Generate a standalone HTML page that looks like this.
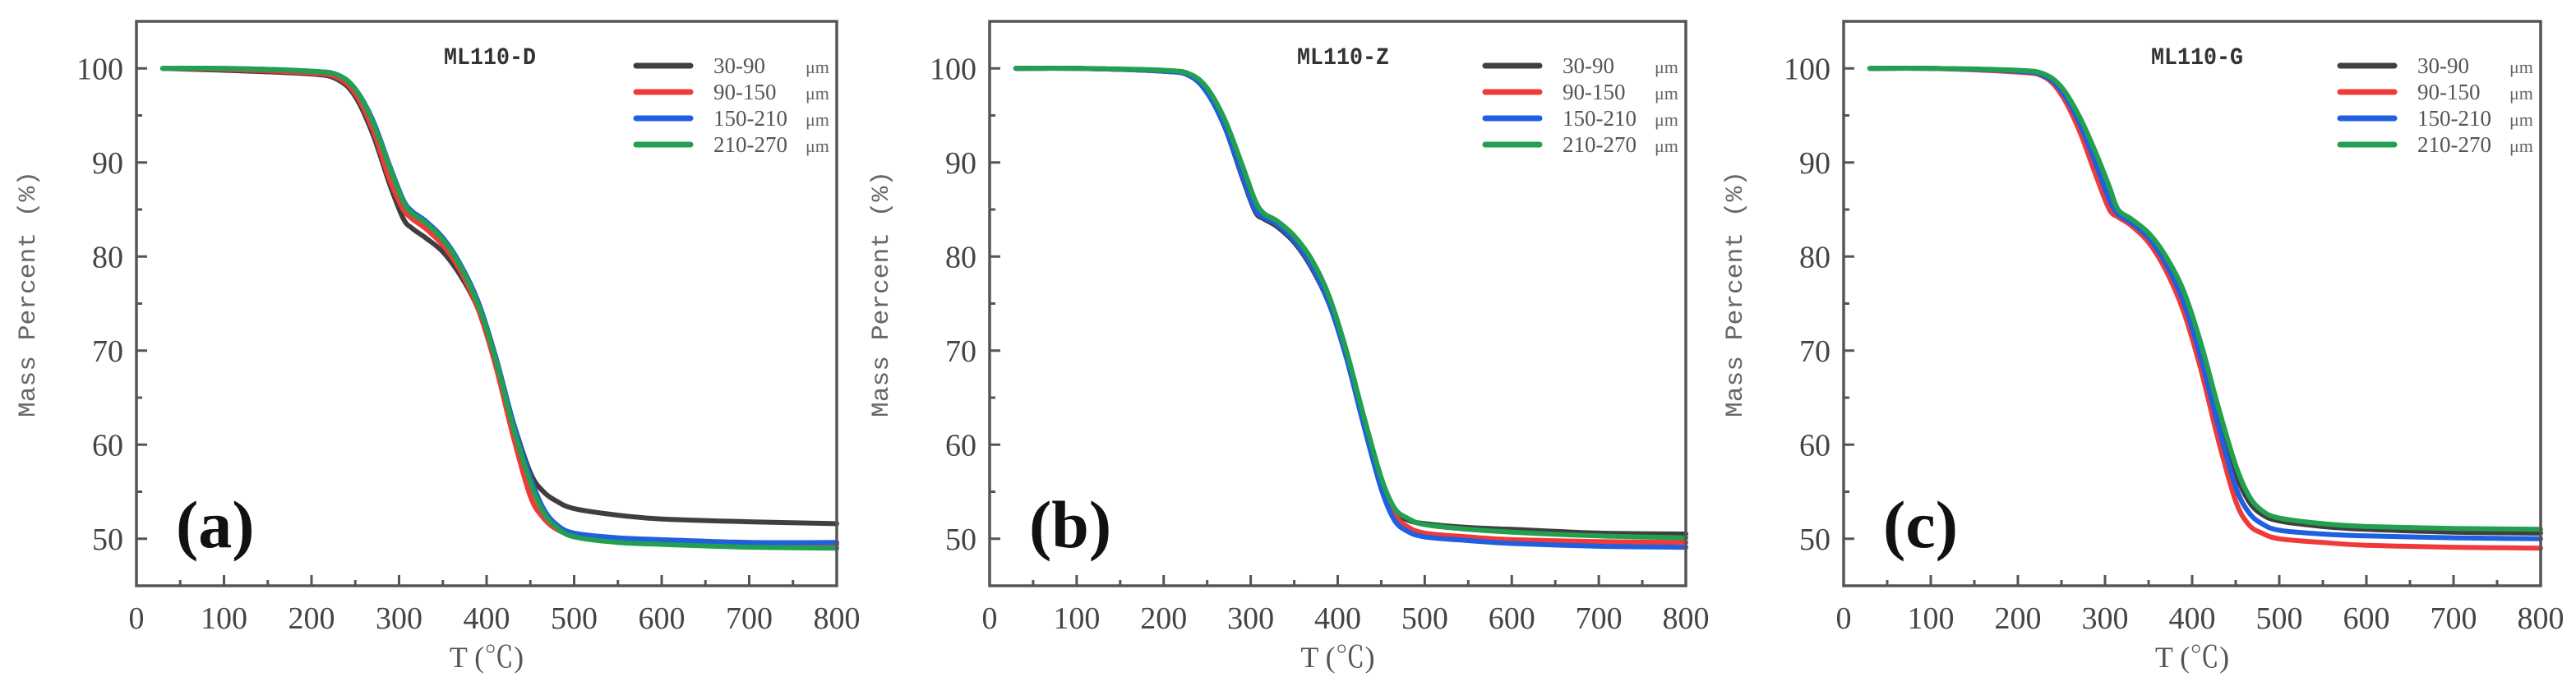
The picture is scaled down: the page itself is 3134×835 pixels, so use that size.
<!DOCTYPE html>
<html><head><meta charset="utf-8"><style>
html,body{margin:0;padding:0;background:#fff;}
svg{display:block;}
</style></head><body>
<svg id="fig" width="3134" height="835" viewBox="0 0 3134 835" xmlns="http://www.w3.org/2000/svg"></svg>
<script>
const temps = [30,100,200,230,250,270,290,305,315,330,350,370,390,410,430,450,465,480,500,550,600,700,800];
const seriesLabels = ["30-90","90-150","150-210","210-270"];
const panelTitles = ["ML110-D","ML110-Z","ML110-G"];
const panelLetters = ["(a)","(b)","(c)"];
const xTicks = [0,100,200,300,400,500,600,700,800];
const yTicks = [50,60,70,80,90,100];
const a_black = [100,99.8,99.4,98.8,97,93,87.5,84,83,82,80.5,78,74.5,69,62.5,57,55,54,53.2,52.5,52.1,51.8,51.6];
const a_red   = [100,99.9,99.5,99,97.3,93.5,88,85,84,83,81.2,78.5,74.5,68.5,61,54.5,52.2,51,50.4,50,49.8,49.5,49.4];
const a_blue  = [100,100,99.7,99.3,97.8,94.5,89.5,86,84.8,83.8,82,79.2,75.3,69.5,62.5,56.5,53.2,51.5,50.6,50.1,49.9,49.6,49.6];
const a_green = [100,100,99.7,99.3,97.8,94.3,89.3,85.8,84.6,83.6,81.8,79,75,69.2,62,56,52.8,51.2,50.2,49.6,49.4,49.1,49.0];
const b_black = [100,100,99.7,99.2,97.4,93.8,88.5,84.8,84,83.2,81.5,78.8,75,69.5,62.5,56,53,52,51.6,51.2,51,50.6,50.5];
const b_red   = [100,100,99.7,99.3,97.6,94,89,85.3,84.3,83.5,81.8,79.2,75.3,69.5,62.5,55.8,52.6,51.3,50.6,50.2,49.9,49.7,49.6];
const b_blue  = [100,100,99.7,99.2,97.4,93.8,88.7,85,84.2,83.4,81.7,79,75,69.2,62,55.3,52,50.8,50.2,49.8,49.5,49.2,49.1];
const b_green = [100,100,99.8,99.4,97.9,94.6,89.8,86,84.6,83.8,82.2,79.7,75.8,70,63,56.5,53.3,52.2,51.5,51,50.7,50.3,50.1];
const c_black = [100,100,99.7,99.3,97.8,94.8,90.6,87,84.8,83.8,82.3,79.7,76,70.3,63.3,57,54,52.6,51.9,51.3,51,50.7,50.6];
const c_red   = [100,100,99.6,99.1,97.2,93.5,88.5,85,84.2,83.3,81.5,78.5,74.2,68,60.5,54,51.5,50.6,50,49.6,49.3,49.1,49.0];
const c_blue  = [100,100,99.7,99.2,97.6,94.3,89.7,86,84.5,83.6,82,79.2,75.2,69.2,62,55.5,52.8,51.6,50.9,50.5,50.3,50.1,50.0];
const c_green = [100,100,99.8,99.4,98,95,90.9,87.4,85,84,82.5,80,76.4,70.8,64,57.8,54.6,53,52.2,51.6,51.3,51.1,51.0];

const panelSeries = [[a_black,a_red,a_blue,a_green],[b_black,b_red,b_blue,b_green],[c_black,c_red,c_blue,c_green]];
const colors = ["#3f3f3f","#f03a3a","#1f5fe0","#22a050"];
const boxes = [{l:166,r:1018},{l:1204,r:2051},{l:2243,r:3091}];
const TOP=26, BOT=713, YMIN=45, YMAX=105, XMIN=0, XMAX=800;
const NS="http://www.w3.org/2000/svg";
const svg=document.getElementById('fig');
function mk(tag,attrs,parent){const e=document.createElementNS(NS,tag);for(const k in attrs)e.setAttribute(k,attrs[k]);(parent||svg).appendChild(e);return e;}
function smooth(pts){let d="M"+pts[0][0].toFixed(1)+","+pts[0][1].toFixed(1);
 for(let i=0;i<pts.length-1;i++){const p0=pts[Math.max(0,i-1)],p1=pts[i],p2=pts[i+1],p3=pts[Math.min(pts.length-1,i+2)];
  const c1x=p1[0]+(p2[0]-p0[0])/6,c1y=p1[1]+(p2[1]-p0[1])/6,c2x=p2[0]-(p3[0]-p1[0])/6,c2y=p2[1]-(p3[1]-p1[1])/6;
  d+=" C"+c1x.toFixed(1)+","+c1y.toFixed(1)+" "+c2x.toFixed(1)+","+c2y.toFixed(1)+" "+p2[0].toFixed(1)+","+p2[1].toFixed(1);}
 return d;}
boxes.forEach((b,pi)=>{
 const sx=v=>b.l+(v-XMIN)/(XMAX-XMIN)*(b.r-b.l);
 const sy=v=>BOT-(v-YMIN)/(YMAX-YMIN)*(BOT-TOP);
 const g=mk('g',{});
 
 
 // series
 panelSeries[pi].forEach((s,si)=>{
  const p=mk('path',{d:smooth(temps.map((t,i)=>[sx(t),sy(s[i])])),fill:'none',stroke:colors[si],'stroke-width':6,'stroke-linejoin':'round','stroke-linecap':'round'},g);
  
  
 });
 // frame
 const fr=mk('rect',{x:b.l,y:TOP,width:b.r-b.l,height:BOT-TOP,fill:'none',stroke:'#555','stroke-width':3.5},g);
 
 
 // x ticks
 for(let v=0;v<=800;v+=50){const x=sx(v);const major=v%100===0;
  mk('line',{x1:x,y1:BOT,x2:x,y2:BOT-(major?13:7),stroke:'#555','stroke-width':3},g);}
 xTicks.forEach(v=>{const t=mk('text',{x:sx(v),y:765,'text-anchor':'middle','font-family':'Liberation Serif, serif','font-size':38,fill:'#444'},g);t.textContent=v;
  
  });
 // y ticks
 for(let v=50;v<=100;v+=5){const y=sy(v);const major=v%10===0;
  mk('line',{x1:b.l,y1:y,x2:b.l+(major?13:7),y2:y,stroke:'#555','stroke-width':3},g);}
 yTicks.forEach(v=>{const t=mk('text',{x:b.l-16,y:sy(v)+13,'text-anchor':'end','font-family':'Liberation Serif, serif','font-size':38,fill:'#444'},g);t.textContent=v;
  
  });
 // axis titles
 const xt=mk('text',{x:(b.l+b.r)/2,y:812,'text-anchor':'middle','font-family':'Liberation Serif, Noto Serif CJK SC, serif','font-size':36,fill:'#555'},g);xt.textContent='T (℃)';
 
 
 const yx=b.l-124;
 const yt=mk('text',{x:yx,y:358,'text-anchor':'middle','font-family':'Liberation Mono, monospace','font-size':30,fill:'#666',transform:'rotate(-90 '+yx+' 358)',textLength:300,lengthAdjust:'spacingAndGlyphs'},g);yt.textContent='Mass Percent (%)';
 
 
 // panel title
 const pt=mk('text',{x:b.l+430,y:78,'text-anchor':'middle','font-family':'Liberation Mono, monospace','font-size':30,'font-weight':'bold',fill:'#333',textLength:112,lengthAdjust:'spacingAndGlyphs'},g);pt.textContent=panelTitles[pi];
 
 
 // letter
 const lt=mk('text',{x:b.l+48,y:666,'font-family':'Liberation Serif, serif','font-size':82,'font-weight':'bold',fill:'#111'},g);lt.textContent=panelLetters[pi];
 
 
 // legend
 const lx=b.r-244;
 seriesLabels.forEach((lab,si)=>{const y=80+32*si;
  const ln=mk('line',{x1:lx,y1:y,x2:lx+66,y2:y,stroke:colors[si],'stroke-width':7,'stroke-linecap':'round'},g);
  
  
  const t=mk('text',{x:lx+94,y:y+9,'font-family':'Liberation Serif, serif','font-size':27,fill:'#555'},g);t.textContent=lab;
  
  
  const u=mk('text',{x:lx+206,y:y+9,'font-family':'Liberation Serif, serif','font-size':22,fill:'#666'},g);u.textContent='μm';
  
  
 });
});
</script>
</body></html>
